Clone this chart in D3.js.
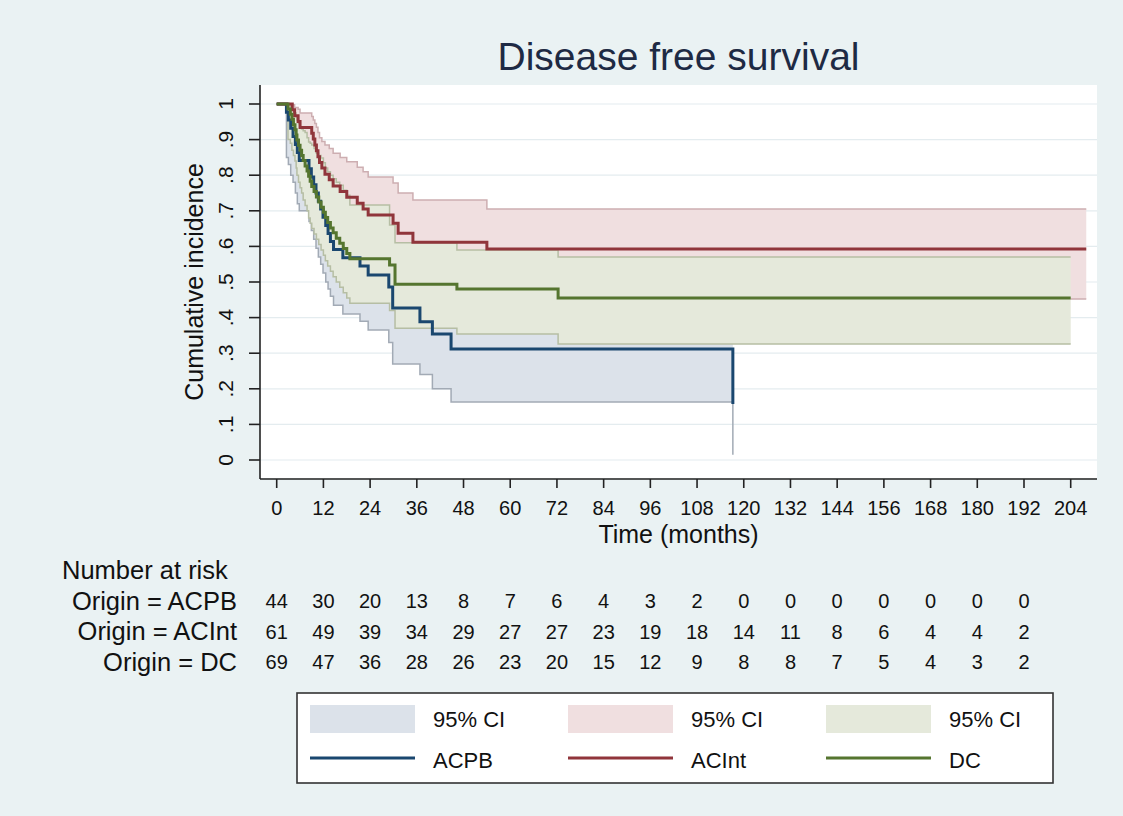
<!DOCTYPE html>
<html><head><meta charset="utf-8">
<script src="https://cdn.jsdelivr.net/npm/d3@7"></script>
<style>
body{margin:0;background:#EAF2F3;}
svg{display:block;font-family:"Liberation Sans",Arial,sans-serif;}
</style>
</head><body><svg id="c" width="1123" height="816"></svg>
<script>
// ---------- data ----------
const chartTitle = "Disease free survival";
const xTitle = "Time (months)";
const yTitle = "Cumulative incidence";
const groups = ["ACPB", "ACInt", "DC"];
const xTicks = [0,12,24,36,48,60,72,84,96,108,120,132,144,156,168,180,192,204];
const yTicks = [0,0.1,0.2,0.3,0.4,0.5,0.6,0.7,0.8,0.9,1];
const yTickLabels = ["0",".1",".2",".3",".4",".5",".6",".7",".8",".9","1"];
const riskTimes = [0,12,24,36,48,60,72,84,96,108,120,132,144,156,168,180,192];
const riskACPB  = [44,30,20,13,8,7,6,4,3,2,0,0,0,0,0,0,0];
const riskACInt = [61,49,39,34,29,27,27,23,19,18,14,11,8,6,4,4,2];
const riskDC    = [69,47,36,28,26,23,20,15,12,9,8,8,7,5,4,3,2];

// ACPB
const acpbTime = [0,2.5,3,3.6,4.2,4.8,5.3,5.8,8.3,8.9,9.5,10.1,10.7,11.3,11.9,12.6,13.2,13.8,14.6,17,21.4,23.5,28.8,29.8,36.8,40,44.8,117.2];
const acpbSurv = [1,.977,.955,.932,.909,.886,.864,.841,.818,.795,.773,.75,.727,.705,.682,.659,.636,.614,.591,.568,.545,.52,.486,.427,.388,.354,.312,.157];
const acpbLo   = [1,.85,.83,.80,.78,.75,.72,.70,.67,.645,.62,.595,.57,.55,.525,.50,.48,.46,.435,.41,.39,.365,.33,.27,.24,.20,.163,.015];
const acpbHi   = [1,.997,.99,.98,.97,.95,.94,.92,.90,.885,.865,.85,.83,.81,.79,.77,.755,.735,.715,.69,.67,.65,.62,.57,.53,.50,.46,.36];
const acpbEnd  = 117.2;

// ACInt
const acintTime = [0,4,4.6,5.5,6,9,9.4,9.8,10.2,10.6,11,11.6,12.4,13.5,14.5,16.3,18,20.7,22.2,23.5,29.9,31.2,35,54];
const acintSurv = [1,.984,.967,.951,.934,.918,.902,.885,.869,.852,.836,.82,.803,.787,.77,.754,.738,.721,.705,.688,.665,.637,.612,.593];
const acintLo   = [1,.89,.87,.85,.83,.81,.79,.775,.755,.735,.715,.70,.68,.66,.645,.625,.61,.59,.575,.555,.53,.50,.48,.452];
const acintHi   = [1,.998,.99,.985,.975,.965,.955,.945,.935,.92,.905,.895,.885,.875,.862,.85,.838,.822,.81,.795,.778,.75,.73,.705];
const acintEnd  = 208;

// DC
const dcTime = [0,2.9,3.5,3.9,4.3,4.7,5.0,5.2,5.6,6.0,6.4,6.8,7.3,7.8,8.2,8.6,9.0,9.6,10.2,10.8,11.4,12.0,12.5,13.1,13.8,14.5,15.3,16.2,17.1,18.0,18.8,29.0,30.4,46.3,72.3];
const dcSurv = [1,.986,.971,.957,.942,.928,.913,.899,.884,.870,.855,.841,.826,.812,.797,.783,.768,.754,.739,.725,.71,.696,.681,.667,.652,.638,.623,.609,.594,.58,.565,.548,.494,.48,.455];
const dcLo   = [1,.90,.89,.87,.855,.84,.82,.80,.78,.765,.75,.73,.715,.70,.68,.665,.65,.635,.62,.605,.59,.575,.56,.545,.53,.515,.50,.485,.47,.455,.44,.42,.37,.354,.326];
const dcHi   = [1,.998,.99,.985,.98,.975,.965,.955,.945,.935,.93,.925,.92,.905,.893,.89,.885,.875,.862,.855,.848,.835,.82,.81,.80,.79,.78,.772,.758,.744,.716,.66,.61,.59,.57];
const dcEnd  = 204;

const colors = {ACPB:"#1A476F", ACInt:"#90353B", DC:"#55752F"};
const ciFill = {ACPB:"#DCE2EA", ACInt:"#F0DFE0", DC:"#E5E9DB"};
const ciLine = {ACPB:"#A2AAB5", ACInt:"#CDAEB1", DC:"#B6BEA4"};

// ---------- build ----------
function series(time, surv, lo, hi, end) {
  const pts = time.map((t,i)=>({t, s:surv[i], lo:lo[i], hi:hi[i]}));
  const last = pts[pts.length-1];
  if (end > last.t) pts.push({t:end, s:last.s, lo:last.lo, hi:last.hi});
  return pts;
}
const data = {
  ACPB: series(acpbTime, acpbSurv, acpbLo, acpbHi, acpbEnd),
  ACInt: series(acintTime, acintSurv, acintLo, acintHi, acintEnd),
  DC: series(dcTime, dcSurv, dcLo, dcHi, dcEnd)
};
const risk = {ACPB:riskACPB, ACInt:riskACInt, DC:riskDC};

const svg = d3.select("#c");
const W = 1123, H = 816;
svg.append("rect").attr("width",W).attr("height",H).attr("fill","#EAF2F3");

const plot = {left:260, right:1097, top:85, bottom:478};
const x = d3.scaleLinear().domain([0,204]).range([276.7,1070.7]);
const y = d3.scaleLinear().domain([0,1]).range([460,104]);

svg.append("rect").attr("x",plot.left).attr("y",plot.top)
  .attr("width",plot.right-plot.left).attr("height",plot.bottom-plot.top).attr("fill","#fff");

// gridlines
svg.append("g").selectAll("line").data(yTicks).join("line")
  .attr("x1",plot.left).attr("x2",plot.right)
  .attr("y1",d=>y(d)).attr("y2",d=>y(d))
  .attr("stroke","#E4ECEF").attr("stroke-width",1.2);

// CI areas
const area = d3.area().x(d=>x(d.t)).y0(d=>y(d.lo)).y1(d=>y(d.hi)).curve(d3.curveStepAfter);
const loLine = d3.line().x(d=>x(d.t)).y(d=>y(d.lo)).curve(d3.curveStepAfter);
const hiLine = d3.line().x(d=>x(d.t)).y(d=>y(d.hi)).curve(d3.curveStepAfter);
const sLine = d3.line().x(d=>x(d.t)).y(d=>y(d.s)).curve(d3.curveStepAfter);

groups.forEach(g=>{
  const gg = svg.append("g");
  gg.append("path").attr("d",area(data[g])).attr("fill",ciFill[g]);
  gg.append("path").attr("d",loLine(data[g])).attr("fill","none").attr("stroke",ciLine[g]).attr("stroke-width",1.5);
  gg.append("path").attr("d",hiLine(data[g])).attr("fill","none").attr("stroke",ciLine[g]).attr("stroke-width",1.5);
});
groups.forEach(g=>{
  svg.append("path").attr("d",sLine(data[g])).attr("fill","none")
    .attr("stroke",colors[g]).attr("stroke-width",3).attr("stroke-linejoin","miter");
});

// axes
const axisColor = "#222";
svg.append("line").attr("x1",plot.left).attr("x2",plot.left).attr("y1",plot.top).attr("y2",plot.bottom+1)
  .attr("stroke",axisColor).attr("stroke-width",1.6);
svg.append("line").attr("x1",plot.left).attr("x2",plot.right).attr("y1",plot.bottom+1).attr("y2",plot.bottom+1)
  .attr("stroke",axisColor).attr("stroke-width",1.6);

const yAx = svg.append("g");
yAx.selectAll("line").data(yTicks).join("line")
  .attr("x1",249).attr("x2",plot.left).attr("y1",d=>y(d)).attr("y2",d=>y(d))
  .attr("stroke",axisColor).attr("stroke-width",1.6);
yAx.selectAll("text").data(yTicks).join("text")
  .attr("transform",d=>`translate(233,${y(d)}) rotate(-90)`)
  .attr("text-anchor","middle").attr("font-size",21).attr("fill","#111")
  .text((d,i)=>yTickLabels[i]);

const xAx = svg.append("g");
xAx.selectAll("line").data(xTicks).join("line")
  .attr("x1",d=>x(d)).attr("x2",d=>x(d)).attr("y1",plot.bottom+1).attr("y2",plot.bottom+10)
  .attr("stroke",axisColor).attr("stroke-width",1.6);
xAx.selectAll("text").data(xTicks).join("text")
  .attr("x",d=>x(d)).attr("y",515).attr("text-anchor","middle")
  .attr("font-size",20).attr("fill","#111").text(d=>d);

svg.append("text").attr("x",(plot.left+plot.right)/2).attr("y",543)
  .attr("text-anchor","middle").attr("font-size",25).attr("fill","#111").text(xTitle);
svg.append("text").attr("transform",`translate(203,${(y(0)+y(1))/2}) rotate(-90)`)
  .attr("text-anchor","middle").attr("font-size",25).attr("fill","#111").text(yTitle);
svg.append("text").attr("x",(plot.left+plot.right)/2).attr("y",70)
  .attr("text-anchor","middle").attr("font-size",39).attr("fill","#1E2A44").text(chartTitle);

// risk table
svg.append("text").attr("x",62).attr("y",579).attr("font-size",25.5).attr("fill","#111").text("Number at risk");
groups.forEach((g,i)=>{
  const yy = 609.5 + i*30.5;
  svg.append("text").attr("x",237).attr("y",yy).attr("text-anchor","end")
    .attr("font-size",25.5).attr("fill","#111").text(`Origin = ${g}`);
  svg.append("g").selectAll("text").data(risk[g]).join("text")
    .attr("x",(d,j)=>x(riskTimes[j])).attr("y",yy-1.5).attr("text-anchor","middle")
    .attr("font-size",20).attr("fill","#111").text(d=>d);
});

// legend
const lg = svg.append("g");
lg.append("rect").attr("x",297).attr("y",693).attr("width",756).attr("height",90)
  .attr("fill","#fff").attr("stroke","#333").attr("stroke-width",1.6);
groups.forEach((g,k)=>{
  const x0 = 310 + k*258;
  lg.append("rect").attr("x",x0).attr("y",705).attr("width",105).attr("height",28).attr("fill",ciFill[g]);
  lg.append("text").attr("x",x0+123).attr("y",727).attr("font-size",22).attr("fill","#111").text("95% CI");
  lg.append("line").attr("x1",x0).attr("x2",x0+105).attr("y1",758).attr("y2",758)
    .attr("stroke",colors[g]).attr("stroke-width",3);
  lg.append("text").attr("x",x0+123).attr("y",768).attr("font-size",22).attr("fill","#111").text(g);
});
</script>
</body></html>
